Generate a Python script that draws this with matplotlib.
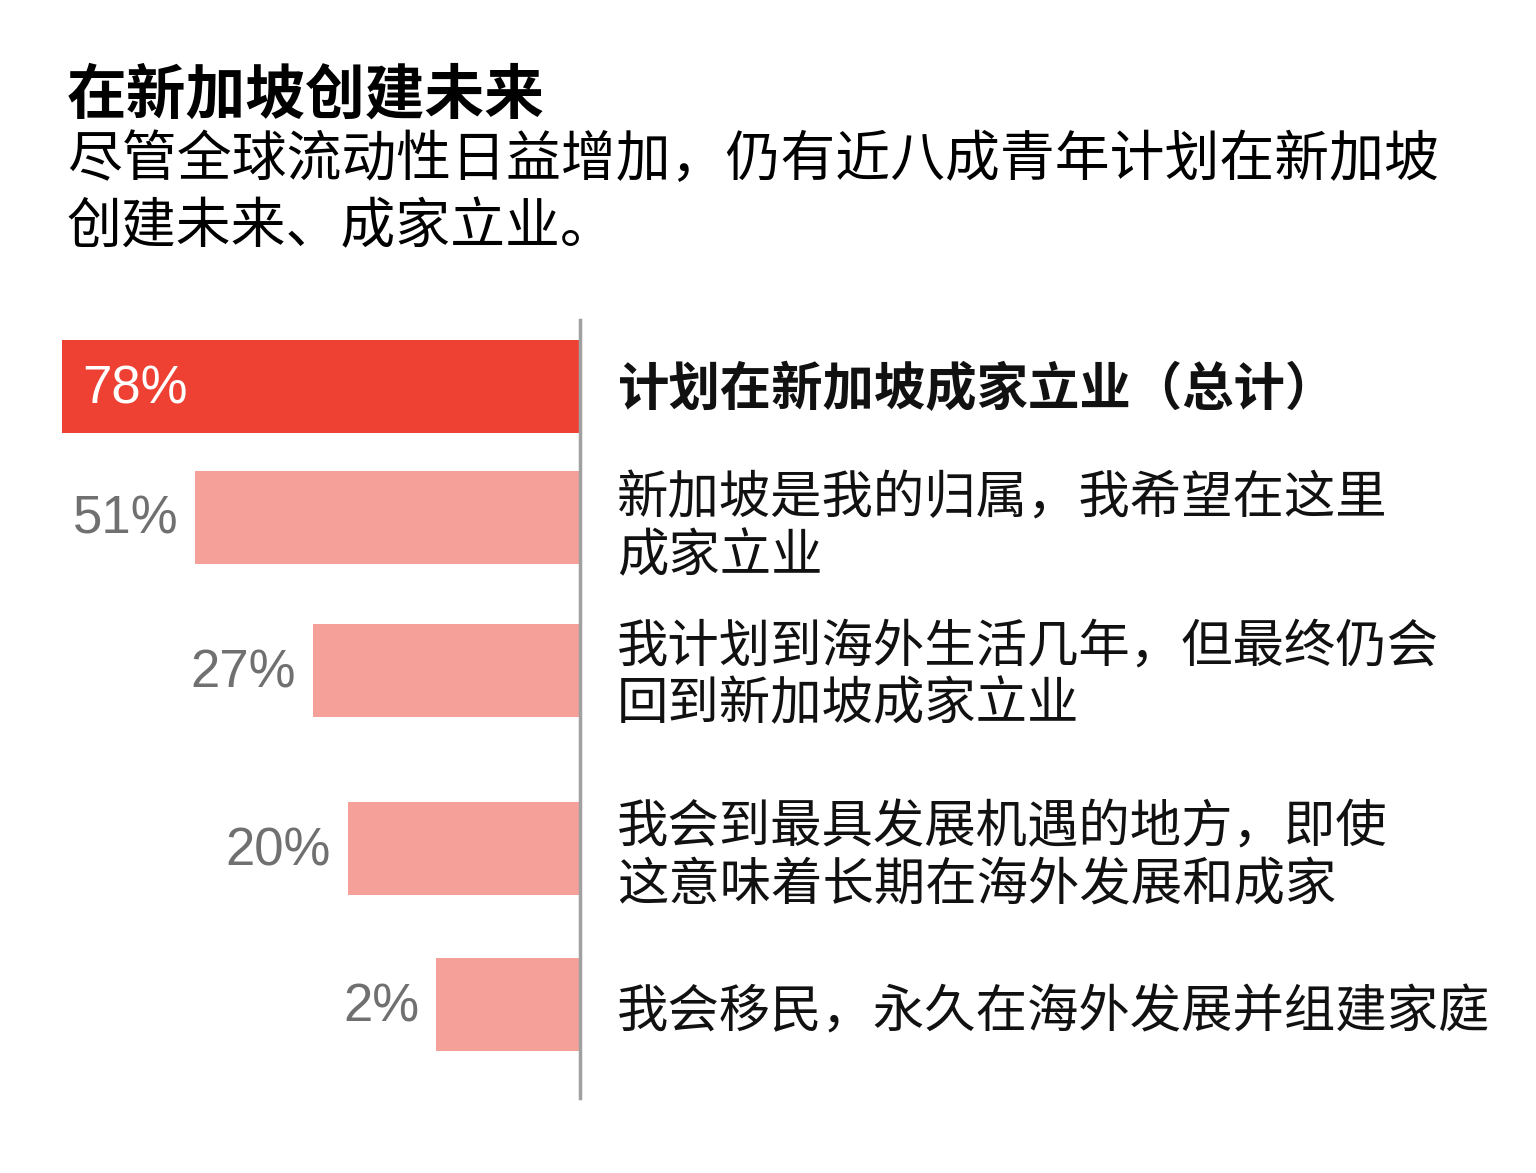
import matplotlib
matplotlib.use('Agg')
import matplotlib.pyplot as plt

plt.rcParams['font.family'] = ['Noto Sans CJK SC', 'DejaVu Sans']

# data
values = [78, 51, 27, 20, 2]
labels = ['计划在新加坡成家立业（总计）',
          '新加坡是我的归属，我希望在这里\n成家立业',
          '我计划到海外生活几年，但最终仍会\n回到新加坡成家立业',
          '我会到最具发展机遇的地方，即使\n这意味着长期在海外发展和成家',
          '我会移民，永久在海外发展并组建家庭']
title = '在新加坡创建未来'
subtitle = '尽管全球流动性日益增加，仍有近八成青年计划在新加坡\n创建未来、成家立业。'

# layout (pixels)
W, H = 1536, 1173
row_y = [386, 517, 670, 848, 1004]
px_per_pct = 4.92
offset = 27.2        # bars start with a fixed stub
axis_px = 580

fig = plt.figure(figsize=(W / 100, H / 100), dpi=100)
ax = fig.add_axes([0, 0, 1, 1])
ax.set_xlim(-axis_px / px_per_pct, (W - axis_px) / px_per_pct)
ax.set_ylim(H, 0)
ax.axis('off')

red = '#EE4133'
pink = '#F5A098'
colors = [red] + [pink] * (len(values) - 1)

ax.barh(row_y, [-(v + offset) for v in values], height=93, left=0,
        color=colors, edgecolor='none', zorder=2)
ax.plot([0, 0], [320, 1098], color='#A0A0A0', lw=2.5, zorder=3)

for i, (v, y) in enumerate(zip(values, row_y)):
    if i == 0:
        ax.text(-(v + offset) + 20 / px_per_pct, y + 3, f'{v}%', color='white',
                fontsize=38, family='Liberation Sans', ha='left', va='center')
    else:
        ax.text(-(v + offset) - 17 / px_per_pct, y + 3, f'{v}%', color='#707070',
                fontsize=38, family='Liberation Sans', ha='right', va='center')

label_y = [389, 528, 676, 857, 1013]
for i, (lab, y) in enumerate(zip(labels, label_y)):
    ax.text(37 / px_per_pct, y, lab, fontsize=37,
            fontweight='bold' if i == 0 else 'normal', color='#111111',
            ha='left', va='center', linespacing=1.1)

fig.text(67 / W, 1 - 97 / H, title, fontsize=43, fontweight='bold',
         color='black', ha='left', va='center')
fig.text(67 / W, 1 - 194 / H, subtitle, fontsize=39.5, color='black',
         ha='left', va='center', linespacing=1.2)

fig.savefig('out.png', dpi=100, facecolor='white')
